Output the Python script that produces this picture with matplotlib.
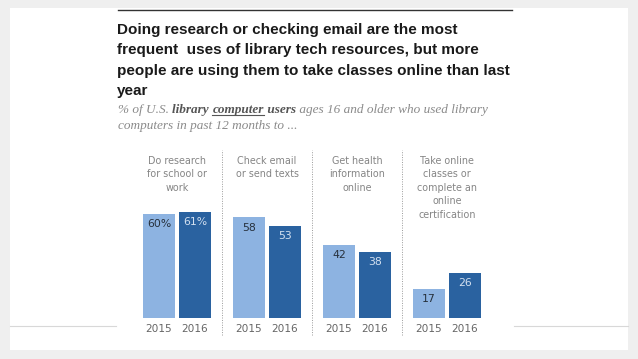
import matplotlib.pyplot as plt
from matplotlib.patches import Rectangle
from matplotlib.lines import Line2D
import numpy as np

W, H = 638, 359

categories = ['Do research\nfor school or\nwork', 'Check email\nor send texts',
              'Get health\ninformation\nonline',
              'Take online\nclasses or\ncomplete an\nonline\ncertification']
years = ['2015', '2016']
vals_2015 = [60, 58, 42, 17]
vals_2016 = [61, 53, 38, 26]
labels_2015 = ['60%', '58', '42', '17']
labels_2016 = ['61%', '53', '38', '26']

title_lines = ['Doing research or checking email are the most',
               'frequent  uses of library tech resources, but more',
               'people are using them to take classes online than last',
               'year']

LIGHT = '#8db3e1'
DARK = '#2a62a0'


def fx(px):
    return px / W


def fy(py):
    return 1 - py / H


fig = plt.figure(figsize=(W / 100, H / 100), dpi=100)
fig.patch.set_facecolor('#efefef')
fig.patches.append(Rectangle((fx(10), fy(350)), fx(618), (350 - 8) / H,
                             transform=fig.transFigure, facecolor='white',
                             edgecolor='none', zorder=-5))

# faint slide line, interrupted by the chart
for x0, x1 in [(10, 116), (514, 628)]:
    fig.lines.append(Line2D([fx(x0), fx(x1)], [fy(326), fy(326)], transform=fig.transFigure,
                            color='#d8d8d8', lw=0.8))

# top rule
fig.lines.append(Line2D([fx(118), fx(512)], [fy(10), fy(10)], transform=fig.transFigure,
                        color='#333333', lw=1.0))

# title
for i, line in enumerate(title_lines):
    fig.text(fx(117), fy(30 + i * 20.3), line, fontsize=11, fontweight='bold',
             color='#1a1a1a', va='center', ha='left', family='Liberation Sans')

# subtitle with mixed styles
fig.canvas.draw()
renderer = fig.canvas.get_renderer()
parts = [('% of U.S. ', 'normal', False), ('library ', 'bold', False),
         ('computer', 'bold', True), (' users', 'bold', False),
         (' ages 16 and older who used library', 'normal', False)]
x = fx(118)
sub_y = fy(113)
for txt, w, und in parts:
    t = fig.text(x, sub_y, txt, fontsize=9.5, style='italic', fontweight=w,
                 color='#555555' if w == 'bold' else '#8a8a8a', family='Liberation Serif',
                 va='baseline', ha='left')
    bb = t.get_window_extent(renderer)
    if und:
        fig.lines.append(Line2D([bb.x0 / W, bb.x1 / W], [sub_y - 2 / H, sub_y - 2 / H],
                                transform=fig.transFigure, color='#555555', lw=0.8))
    x = bb.x1 / W
fig.text(fx(118), fy(129), 'computers in past 12 months to ...', fontsize=9.5, style='italic',
         color='#8a8a8a', family='Liberation Serif', va='baseline', ha='left')

# bars
ax = fig.add_axes([fx(118), fy(318), fx(512) - fx(118), (318 - 144.5) / H])
ax.set_xlim(-0.656, 3.722)
ax.set_ylim(0, 100)
ax.axis('off')
pos = np.arange(len(categories))
bw = 0.356
off = 0.2
ax.bar(pos - off, vals_2015, bw, color=LIGHT)
ax.bar(pos + off, vals_2016, bw, color=DARK)
for i in range(len(categories)):
    ax.text(pos[i] - off, vals_2015[i] - 3, labels_2015[i], ha='center', va='top',
            fontsize=7.8, color='#26303c')
    ax.text(pos[i] + off, vals_2016[i] - 3, labels_2016[i], ha='center', va='top',
            fontsize=7.8, color='#d3e0f0')
    for j, yr in enumerate(years):
        ax.text(pos[i] + (j * 2 - 1) * off, -6.5, yr, ha='center', va='center',
                fontsize=7.6, color='#666666', clip_on=False)
    ax.text(pos[i], 93.3, categories[i], ha='center', va='top', fontsize=6.9,
            color='#858585', linespacing=1.42, clip_on=False)
for s in [0.5, 1.5, 2.5]:
    ax.plot([s, s], [-10, 97], ls=(0, (1, 1.5)), color='#9a9a9a', lw=0.7, clip_on=False)

fig.savefig('out.png', dpi=100, facecolor=fig.get_facecolor())
